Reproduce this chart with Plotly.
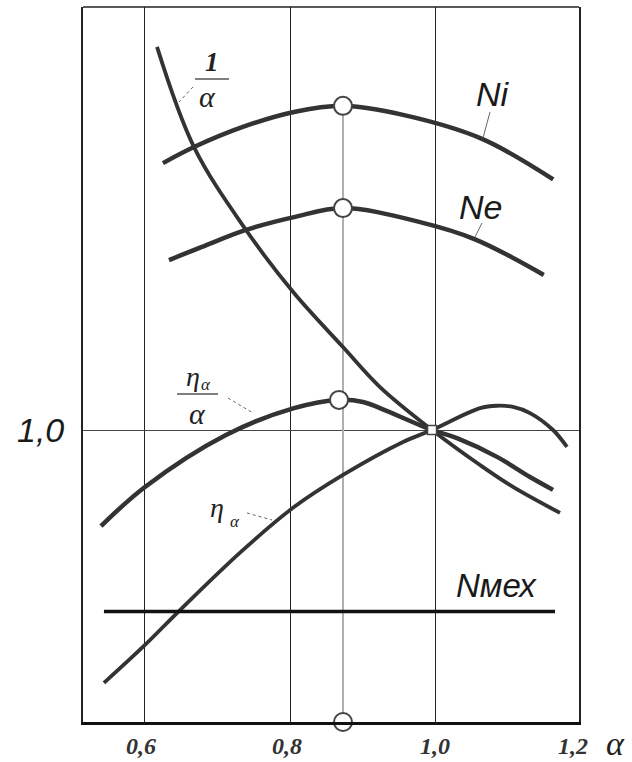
import plotly.graph_objects as go

# ---------------- data ----------------
tick_vals = [0.6, 0.8, 1.0, 1.2]
tick_text = ["0,6", "0,8", "1,0", "1,2"]
y_tick_vals = [1.0]
y_tick_text = ["1,0"]

ni_alpha = [0.6248, 0.6676, 0.734, 0.8055, 0.8731, 0.9559, 1.0648, 1.163]
ni_val = [1.914, 1.969, 2.037, 2.089, 2.110, 2.079, 1.997, 1.858]

ne_alpha = [0.6331, 0.6786, 0.7393, 0.8055, 0.8731, 0.9793, 1.0552, 1.150]
ne_val = [1.582, 1.627, 1.685, 1.729, 1.760, 1.712, 1.653, 1.531]

inv_alpha = [0.6166, 0.6676, 0.7393, 0.8055, 0.8731, 0.9241, 0.9959, 1.0621, 1.1076, 1.1724]
inv_val = [2.312, 1.969, 1.685, 1.469, 1.284, 1.147, 1.0, 0.880, 0.805, 0.716]

eta_a_alpha = [0.5393, 0.6, 0.7117, 0.8055, 0.8676, 0.9007, 0.9241, 0.9959, 1.0303, 1.0855, 1.131, 1.1628]
eta_a_val = [0.671, 0.805, 0.983, 1.075, 1.103, 1.096, 1.075, 1.0, 0.972, 0.908, 0.839, 0.795]

eta_alpha = [0.5434, 0.6, 0.6469, 0.7338, 0.8055, 0.8731, 0.9559, 0.9959, 1.0621, 1.0855, 1.1076, 1.131, 1.1628, 1.182]
eta_val = [0.134, 0.264, 0.380, 0.586, 0.736, 0.846, 0.959, 1.0, 1.075, 1.083, 1.079, 1.058, 1.0, 0.942]

nmech_alpha = [0.5434, 1.1655]
nmech_val = [0.378, 0.378]

opt_alpha = [0.8731, 0.8731, 0.8676, 0.8731]
opt_val = [2.110, 1.760, 1.103, 0.0]

cross_alpha = [0.9959]
cross_val = [1.0]

# ---------------- layout geometry ----------------
W, H = 632, 762
ML, MR, MT, MB = 83, 53, 7, 40
PW, PH = W - ML - MR, H - MT - MB
XR = [0.5145, 1.1986]


def px(x):
    return (x - ML) / PW


def py(y):
    return (H - MB - y) / PH


CURVE = "#333333"
fig = go.Figure()

# vertical optimum line
fig.add_trace(go.Scatter(x=[opt_alpha[0], opt_alpha[-1]], y=[opt_val[0], opt_val[-1]],
                         mode="lines", line=dict(color="#b0b0b0", width=2), hoverinfo="skip"))

for xs, ys, w in [(ni_alpha, ni_val, 4.5), (ne_alpha, ne_val, 4.5), (inv_alpha, inv_val, 3.8),
                  (eta_a_alpha, eta_a_val, 4.5), (eta_alpha, eta_val, 3.8)]:
    fig.add_trace(go.Scatter(x=xs, y=ys, mode="lines",
                             line=dict(color=CURVE, width=w, shape="spline", smoothing=1.0)))

fig.add_trace(go.Scatter(x=nmech_alpha, y=nmech_val, mode="lines",
                         line=dict(color="#111111", width=3.5)))

fig.add_trace(go.Scatter(x=opt_alpha, y=opt_val, mode="markers", cliponaxis=False,
                         marker=dict(symbol="circle", size=18, color="white",
                                     line=dict(color="#444444", width=2))))
fig.add_trace(go.Scatter(x=cross_alpha, y=cross_val, mode="markers",
                         marker=dict(symbol="square", size=9, color="white",
                                     line=dict(color="#444444", width=1.5))))

fig.update_layout(
    width=W, height=H, margin=dict(l=ML, r=MR, t=MT, b=MB),
    paper_bgcolor="white", plot_bgcolor="white", showlegend=False,
    xaxis=dict(range=XR, tickvals=tick_vals[:3], showticklabels=False,
               ticks="", showgrid=True, gridcolor="#222222", gridwidth=1, zeroline=False,
               showline=True, linecolor="#111111", linewidth=3),
    yaxis=dict(range=[0, 2.4486], tickvals=y_tick_vals, showticklabels=False, ticks="",
               showgrid=True, gridcolor="#444444", gridwidth=1, zeroline=False,
               showline=True, mirror=True, linecolor="#222222", linewidth=1.5),
)

shapes = [dict(type="line", xref="paper", yref="paper", x0=0, x1=1, y0=1, y1=1,
               line=dict(color="#222222", width=1.5))]


def seg(x0, y0, x1, y1, color="#666666", width=1, dash="solid"):
    shapes.append(dict(type="line", xref="paper", yref="paper",
                       x0=px(x0), y0=py(y0), x1=px(x1), y1=py(y1),
                       line=dict(color=color, width=width, dash=dash)))


seg(490, 112, 483, 138)
seg(482, 223, 475, 237)
seg(193, 87, 179, 102, dash="dot")
seg(228, 398, 253, 413, dash="dot")
seg(247, 513, 272, 520, dash="dot")
seg(195, 79, 229, 79, color="#555555", width=1.5)
seg(177, 394, 218, 394, color="#555555", width=1.5)
fig.update_layout(shapes=shapes)

ann = []


def label(x, y, text, size, family="Liberation Sans", color="#1a1a1a"):
    ann.append(dict(xref="paper", yref="paper", x=px(x), y=py(y), text=text,
                    showarrow=False, xanchor="center", yanchor="middle",
                    font=dict(family=family, size=size, color=color)))


SERIF = "Liberation Serif"
label(493, 94, "<i>Ni</i>", 34)
label(480, 207, "<i>Ne</i>", 34)
label(496, 585, "<i>Nмех</i>", 33)
label(40, 430, "<i>" + y_tick_text[0] + "</i>", 34)

label(212, 62, "<b><i>1</i></b>", 27, SERIF, "#222")
label(207, 97, "<i>α</i>", 30, SERIF, "#222")
label(193, 376, "<i>η</i>", 28, SERIF, "#222")
label(206, 384, "<i>α</i>", 17, SERIF, "#222")
label(197, 413, "<i>α</i>", 30, SERIF, "#222")
label(217, 507, "<i>η</i>", 28, SERIF, "#222")
label(235, 521, "<i>α</i>", 17, SERIF, "#222")

tick_shift = [-4, -3, 0, -7]
for v, t, s in zip(tick_vals, tick_text, tick_shift):
    xp = ML + (v - XR[0]) / (XR[1] - XR[0]) * PW + s
    label(xp, 746, "<b><i>" + t + "</i></b>", 24, SERIF, "#333")
label(615, 744, "<i>α</i>", 34, SERIF, "#222")

fig.update_layout(annotations=ann)
fig.write_html("out.html")
